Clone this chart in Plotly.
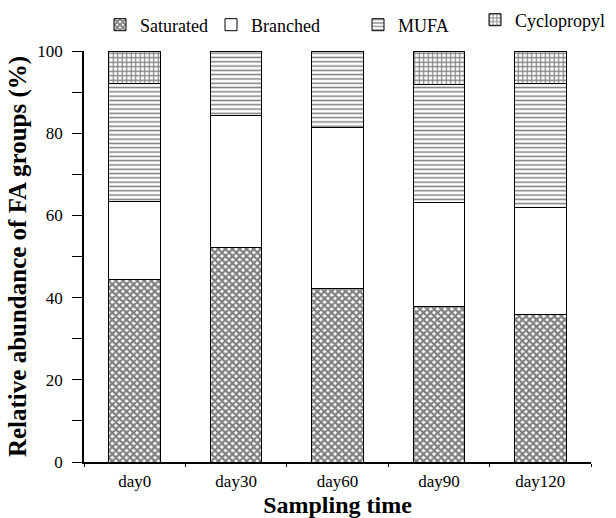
import plotly.graph_objects as go

categories = ["day0", "day30", "day60", "day90", "day120"]
saturated = [44.4, 52.1, 42.1, 37.8, 35.8]
branched = [19.1, 32.3, 39.4, 25.3, 26.1]
mufa = [28.6, 15.6, 18.5, 28.8, 30.2]
cyclopropyl = [7.9, 0.0, 0.0, 8.1, 7.9]

series = [
    ("Saturated", saturated, "x", 5, 0.7),
    ("Branched", branched, "", 8, 0.3),
    ("MUFA", mufa, "-", 4.3, 0.35),
    ("Cyclopropyl", cyclopropyl, "+", 4.5, 0.45),
]
legend_ids = ["legend", "legend2", "legend3", "legend4"]
legend_x = [100, 211, 358, 475]
legend_y = [25, 25, 25, 20]

FONT = "Liberation Serif, Times New Roman, serif"

fig = go.Figure()
for (name, vals, shape, size, sol), lid in zip(series, legend_ids):
    fig.add_trace(go.Bar(
        x=categories, y=vals, name=name, width=0.51, legend=lid,
        marker=dict(
            color="white",
            line=dict(color="black", width=1),
            pattern=dict(shape=shape, fgcolor="black", bgcolor="white",
                         size=size, solidity=sol, fillmode="overlay"),
        ),
    ))

legends = {}
for lid, lx, ly in zip(legend_ids, legend_x, legend_y):
    legends[lid] = dict(orientation="h", x=lx / 616, y=1 - ly / 518,
                        xref="container", yref="container",
                        xanchor="left", yanchor="middle",
                        font=dict(size=18, family=FONT), bgcolor="rgba(0,0,0,0)",
                        itemwidth=30)

fig.update_layout(
    barmode="stack",
    width=616, height=518,
    margin=dict(l=84, r=25, t=51, b=56, autoexpand=False),
    paper_bgcolor="white", plot_bgcolor="white",
    font=dict(family=FONT, size=17, color="black"),
    showlegend=True,
    xaxis=dict(
        range=[-0.5, 4.5], showline=True, linecolor="black", linewidth=1.5,
        ticks="outside", tickson="boundaries", ticklen=3, tickcolor="black",
        showgrid=False, zeroline=False,
        ticklabelstandoff=3,
        tickfont=dict(size=17, family=FONT),
        title=dict(text="<b>Sampling time</b>", font=dict(size=24, family=FONT), standoff=10),
    ),
    yaxis=dict(
        range=[0, 100], showline=True, linecolor="black", linewidth=1.5,
        ticks="outside", ticklen=10, tickcolor="black", tickwidth=1.2,
        dtick=20, tick0=0,
        minor=dict(ticks="outside", ticklen=10, dtick=10, tickcolor="black"),
        showgrid=False, zeroline=False,
        ticklabelstandoff=6,
        tickfont=dict(size=17, family=FONT),
        title=dict(text="<b>Relative abundance of FA groups (%)</b>",
                   font=dict(size=25, family=FONT), standoff=4),
    ),
    **legends,
)

fig.write_html("out.html")
